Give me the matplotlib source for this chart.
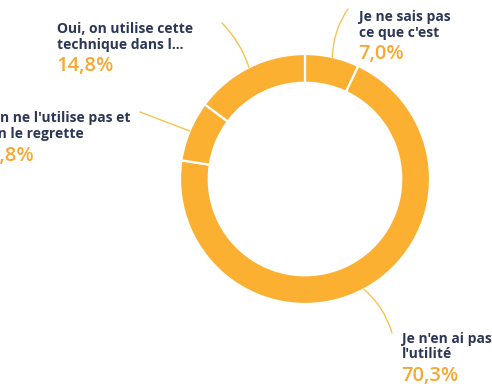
import numpy as np
import matplotlib
matplotlib.use("Agg")
import matplotlib.pyplot as plt

plt.rcParams['font.family'] = ['Open Sans', 'DejaVu Sans']

# answer categories, clockwise from 12 o'clock
labels = ["Je ne sais pas\nce que c'est",
          "Je n'en ai pas\nl'utilité",
          "On ne l'utilise pas et\non le regrette",
          "Oui, on utilise cette\ntechnique dans l..."]
values = [7.0, 70.3, 7.8, 14.8]
pct_labels = ["7,0%", "70,3%", "7,8%", "14,8%"]

# label anchors (px, top-left origin) and leader line ends
label_pos = [(359, 21), (402, 343), (-11, 122), (57, 33)]
line_ends = [(348, 9), (392, 333), (140, 112), (222, 23)]
line_rad = [0.15, 0.15, 0.0, -0.12]

W, H = 492, 390
RING = '#FCB032'
PCT = '#F8A830'
NAVY = '#2C3655'
LEADER = '#F6C350'

fig = plt.figure(figsize=(W / 100, H / 100), dpi=100)
fig.patch.set_facecolor('white')

cx, cy, r = 305, 179, 125
ax = fig.add_axes([(cx - r) / W, 1 - (cy + r) / H, 2 * r / W, 2 * r / H])
wedges, _ = ax.pie(values, startangle=90, counterclock=False, colors=[RING] * 4,
                   wedgeprops=dict(width=0.23, edgecolor='white', linewidth=1.6))
ax.set_xlim(-1, 1)
ax.set_ylim(-1, 1)
ax.set_aspect('equal')
ax.axis('off')


def px(x, y):
    return x / W, 1 - y / H


for w, (lx, ly), (ex, ey), rad, lab, pct in zip(wedges, label_pos, line_ends,
                                                 line_rad, labels, pct_labels):
    mid = np.deg2rad((w.theta1 + w.theta2) / 2)
    ax.annotate('', xy=(np.cos(mid), np.sin(mid)), xycoords='data',
                xytext=px(ex, ey), textcoords='figure fraction',
                arrowprops=dict(arrowstyle='-', color=LEADER, lw=1.0,
                                shrinkA=0, shrinkB=0,
                                connectionstyle=f'arc3,rad={rad}'))
    first, second = lab.split('\n')
    fig.text(*px(lx, ly), first, ha='left', va='baseline', fontsize=10,
             fontweight='bold', color=NAVY)
    fig.text(*px(lx, ly + 15.5), second, ha='left', va='baseline', fontsize=10,
             fontweight='bold', color=NAVY)
    fig.text(*px(lx - 1, ly + 38.5), pct, ha='left', va='baseline', fontsize=14.5,
             color=PCT, fontweight='semibold')

fig.savefig('out.png', dpi=100, facecolor='white')
